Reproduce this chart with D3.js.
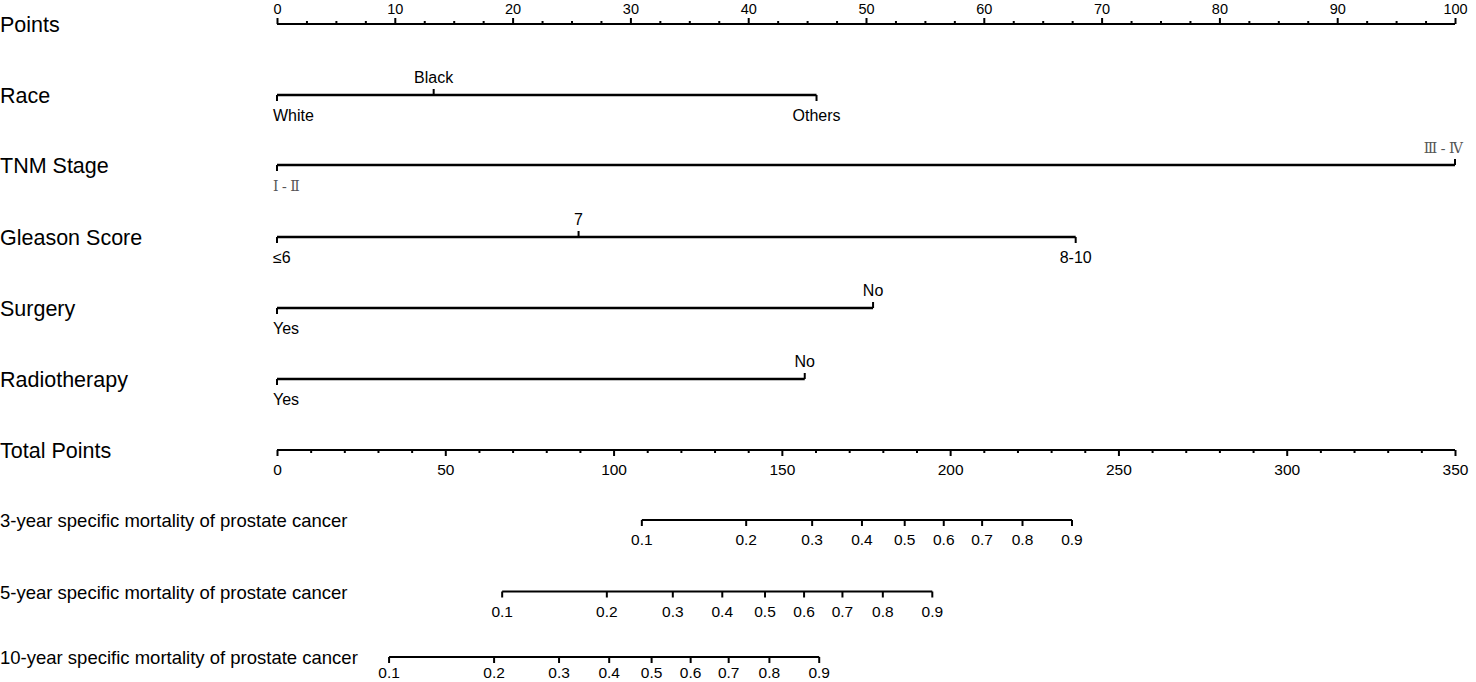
<!DOCTYPE html>
<html><head><meta charset="utf-8">
<script src="https://cdn.jsdelivr.net/npm/d3@7"></script>
<style>body{margin:0;background:#fff}svg{display:block}text{font-family:"Liberation Sans",Arial,sans-serif;fill:#000}</style>
</head><body><svg id="c" width="1476" height="682"></svg>
<script>
// ---- data ----
const pointTicks = [0,10,20,30,40,50,60,70,80,90,100];
const totalTicks = [0,50,100,150,200,250,300,350];
const variables = ["Race","TNM Stage","Gleason Score","Surgery","Radiotherapy"];
const raceLevels = ["White","Black","Others"];
const racePoints = [0,13.3,45.8];
const tnmLevels = ["Ⅰ - Ⅱ","Ⅲ - Ⅳ"];
const tnmPoints = [0,100];
const gleasonLevels = ["≤6","7","8-10"];
const gleasonPoints = [0,25.6,67.8];
const surgeryLevels = ["Yes","No"];
const surgeryPoints = [0,50.6];
const radioLevels = ["Yes","No"];
const radioPoints = [0,44.8];
const probLabels = ["0.1","0.2","0.3","0.4","0.5","0.6","0.7","0.8","0.9"];
const mort3Total = [108.4,139.4,159.0,173.8,186.5,198.1,209.5,221.5,236.2];
const mort5Total = [66.9,98.0,117.6,132.3,145.0,156.6,168.0,180.0,194.7];
const mort10Total = [33.3,64.5,83.8,98.7,111.3,122.9,134.2,146.3,161.1];
const mortTitles = ["3-year specific mortality of prostate cancer","5-year specific mortality of prostate cancer","10-year specific mortality of prostate cancer"];

// ---- drawing ----
const svg = d3.select("#c");
const x = d3.scaleLinear().domain([0,100]).range([277,1455]);
const xt = d3.scaleLinear().domain([0,350]).range([277,1455]);

function label(t,xx,yy,size,anchor){
  return svg.append("text").attr("x",xx).attr("y",yy).attr("font-size",size).attr("text-anchor",anchor||"start").text(t);
}

// Points axis
label("Points",0,32,21.5);
const gP = svg.append("g").attr("transform","translate(0,24)");
gP.call(d3.axisTop(x).tickValues(pointTicks).tickSize(6).tickPadding(4).tickFormat(d3.format("d")));
gP.append("g").call(d3.axisTop(x).tickValues(d3.range(2.5,100,2.5).filter(v=>v%10!==0)).tickSize(3).tickFormat(""));
gP.selectAll(".domain").attr("d",`M${x(0)},0H${x(100)}`);
gP.selectAll("path,line").attr("stroke","#000").attr("stroke-width",2);
gP.selectAll("text").attr("font-size",14.5).attr("font-family","Liberation Sans, Arial").attr("fill","#000");

// Categorical variables
const catDefs = [
  {name:"Race",levels:raceLevels,pts:racePoints,y:95,up:[false,true,false],serif:false},
  {name:"TNM Stage",levels:tnmLevels,pts:tnmPoints,y:165,up:[false,true],serif:true},
  {name:"Gleason Score",levels:gleasonLevels,pts:gleasonPoints,y:237,up:[false,true,false],serif:false},
  {name:"Surgery",levels:surgeryLevels,pts:surgeryPoints,y:308,up:[false,true],serif:false},
  {name:"Radiotherapy",levels:radioLevels,pts:radioPoints,y:379,up:[false,true],serif:false}
];
catDefs.forEach(d=>{
  label(d.name,0,d.y+8,21.5);
  const g = svg.append("g");
  g.append("line").attr("x1",x(d3.min(d.pts))).attr("x2",x(d3.max(d.pts))).attr("y1",d.y).attr("y2",d.y).attr("stroke","#000").attr("stroke-width",2.5);
  d.pts.forEach((p,i)=>{
    const up = d.up[i];
    g.append("line").attr("x1",x(p)).attr("x2",x(p)).attr("y1",d.y).attr("y2",up?d.y-6:d.y+6).attr("stroke","#000").attr("stroke-width",2);
    let anchor = "middle";
    if(i===0) anchor="start";
    if(p===100) anchor="end";
    const t = label(d.levels[i], p===100? x(p)+8 : (i===0? x(p)-4 : x(p)), up? d.y-12 : d.y+26, 16, anchor);
    if(d.serif){ t.style("font-family","'Liberation Serif','DejaVu Serif',serif").style("fill","#555").attr("font-size",14); }
  });
});

// Total points axis
label("Total Points",0,458,21.5);
const gT = svg.append("g").attr("transform","translate(0,450)");
gT.call(d3.axisBottom(xt).tickValues(totalTicks).tickSize(6).tickPadding(8).tickFormat(d3.format("d")));
gT.append("g").call(d3.axisBottom(xt).tickValues(d3.range(10,350,10).filter(v=>v%50!==0)).tickSize(3).tickFormat(""));
gT.selectAll(".domain").attr("d",`M${xt(0)},0H${xt(350)}`);
gT.selectAll("path,line").attr("stroke","#000").attr("stroke-width",2);
gT.selectAll("text").attr("font-size",15.5).attr("font-family","Liberation Sans, Arial").attr("fill","#000");

// Mortality scales
[[mort3Total,520,25],[mort5Total,591.5,25],[mort10Total,657,21]].forEach(([tot,y,off],k)=>{
  label(mortTitles[k],0,y+7,18.5);
  const g = svg.append("g");
  g.append("line").attr("x1",xt(tot[0])).attr("x2",xt(tot[tot.length-1])).attr("y1",y).attr("y2",y).attr("stroke","#000").attr("stroke-width",2);
  tot.forEach((v,i)=>{
    g.append("line").attr("x1",xt(v)).attr("x2",xt(v)).attr("y1",y).attr("y2",y+6).attr("stroke","#000").attr("stroke-width",2);
    label(probLabels[i],xt(v),y+off,15.5,"middle");
  });
});
</script></body></html>
